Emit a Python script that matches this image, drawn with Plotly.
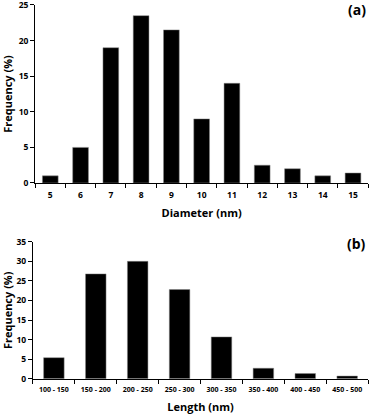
import plotly.graph_objects as go

# panel (a): diameter distribution
diameter = ['5', '6', '7', '8', '9', '10', '11', '12', '13', '14', '15']
freq_diameter = [1, 5, 19, 23.5, 21.5, 9, 14, 2.5, 2, 1, 1.4]

# panel (b): length distribution
length = ['100 - 150', '150 - 200', '200 - 250', '250 - 300',
          '300 - 350', '350 - 400', '400 - 450', '450 - 500']
freq_length = [5.4, 26.8, 30.0, 22.8, 10.7, 2.7, 1.35, 0.7]

font_name = 'Open Sans'
fig = go.Figure()
fig.add_trace(go.Bar(x=diameter, y=freq_diameter, xaxis='x', yaxis='y',
                     marker=dict(color='black', line=dict(color='#888888', width=0.5)),
                     width=0.52, showlegend=False, hoverinfo='skip'))
fig.add_trace(go.Bar(x=length, y=freq_length, xaxis='x2', yaxis='y2',
                     marker=dict(color='black', line=dict(color='#888888', width=0.5)),
                     width=0.49, showlegend=False, hoverinfo='skip'))

ax_common = dict(showline=True, linecolor='black', linewidth=1, showgrid=False,
                 ticks='outside', ticklen=4, tickcolor='black', zeroline=False,
                 tickangle=0, automargin=False)
tick_font = dict(family=font_name, size=8.5, color='black', weight='bold')
title_font = dict(family=font_name, size=11, color='black', weight='bold')

fig.update_layout(
    width=370, height=414,
    margin=dict(l=0, r=0, t=0, b=0),
    plot_bgcolor='white', paper_bgcolor='white',
    font=dict(family=font_name, color='black'),
    xaxis=dict(domain=[0.095, 0.995], anchor='y', type='category', tickson='boundaries',
               tickfont=tick_font, ticklabelstandoff=4,
               title=dict(text='Diameter (nm)', standoff=10, font=title_font),
               **ax_common),
    yaxis=dict(domain=[0.558, 0.988], anchor='x', range=[0, 25], dtick=5,
               tickfont=tick_font,
               title=dict(text='Frequency (%)', standoff=5, font=title_font),
               **ax_common),
    xaxis2=dict(domain=[0.089, 0.995], anchor='y2', type='category', tickson='boundaries',
                tickfont=dict(family=font_name, size=7, color='black', weight='bold'),
                ticklabelstandoff=4,
                title=dict(text='Length (nm)', standoff=10, font=title_font),
                **ax_common),
    yaxis2=dict(domain=[0.085, 0.416], anchor='x2', range=[0, 35], dtick=5,
                tickfont=tick_font,
                title=dict(text='Frequency (%)', standoff=5, font=title_font),
                **ax_common),
    annotations=[
        dict(text='(a)', x=0.995, y=0.976, xref='paper', yref='paper',
             xanchor='right', yanchor='middle', showarrow=False,
             font=dict(family=font_name, size=14, weight='bold')),
        dict(text='(b)', x=0.995, y=0.413, xref='paper', yref='paper',
             xanchor='right', yanchor='middle', showarrow=False,
             font=dict(family=font_name, size=14, weight='bold')),
    ],
)

# the default page keeps an 8px body margin; drop it so the figure fills the window
fig.write_html('out.html', config={'displayModeBar': False},
               post_script="document.body.style.margin='0';")
